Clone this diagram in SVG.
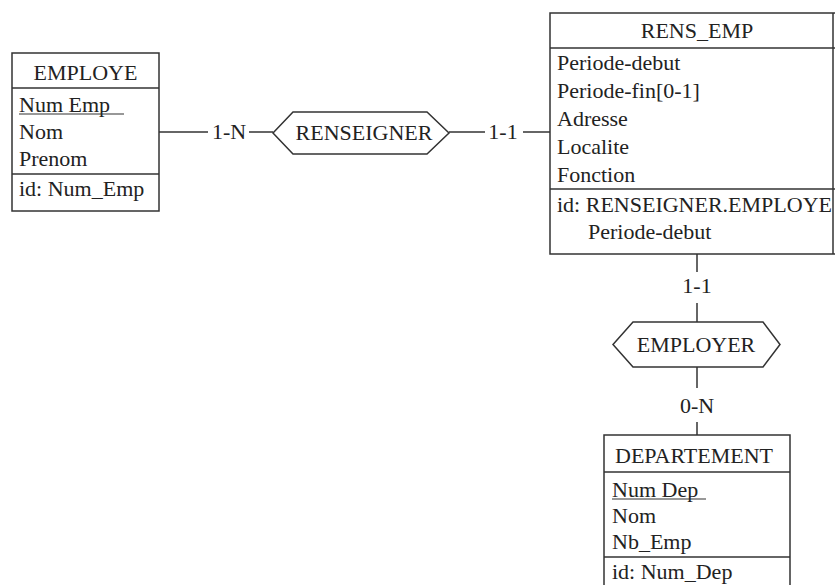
<svg xmlns="http://www.w3.org/2000/svg" width="835" height="585" viewBox="0 0 835 585">
<style>
.box{fill:none;stroke:#333;stroke-width:1.5}
.ln{fill:none;stroke:#333;stroke-width:1.5}
text{font-family:"Liberation Serif","Times New Roman",serif;font-size:22px;fill:#222}
.c{text-anchor:middle}
</style>
<rect width="835" height="585" fill="#fff"/>
<g id="connectors">
<line class="ln" x1="159" y1="132" x2="208" y2="132"/>
<text class="c" x="229" y="139">1-N</text>
<line class="ln" x1="249" y1="132" x2="273" y2="132"/>
<line class="ln" x1="449" y1="132" x2="485" y2="132"/>
<text class="c" x="503" y="139">1-1</text>
<line class="ln" x1="523" y1="132" x2="550" y2="132"/>
<line class="ln" x1="697" y1="254" x2="697" y2="272"/>
<text class="c" x="697" y="293">1-1</text>
<line class="ln" x1="697" y1="303" x2="697" y2="322"/>
<line class="ln" x1="697" y1="367" x2="697" y2="388"/>
<text class="c" x="697" y="413">0-N</text>
<line class="ln" x1="697" y1="422" x2="697" y2="435"/>
</g>
<g id="EMPLOYE">
<rect class="box" x="12" y="53" width="147" height="158"/>
<line class="ln" x1="12" y1="88" x2="159" y2="88"/>
<line class="ln" x1="12" y1="174" x2="159" y2="174"/>
<text class="c" x="85.5" y="80">EMPLOYE</text>
<text x="19" y="112">Num Emp</text>
<line class="ln" x1="19" y1="114" x2="124" y2="114" style="stroke-width:1.2"/>
<text x="19" y="139">Nom</text>
<text x="19" y="166">Prenom</text>
<text x="19" y="196">id: Num_Emp</text>
</g>
<g id="RENSEIGNER">
<polygon class="box" points="273,133 293,112 427,112 449,133 427,154 293,154"/>
<text class="c" x="364" y="140">RENSEIGNER</text>
</g>
<g id="RENS_EMP">
<polyline class="box" points="836,13 550,13 550,254 836,254"/>
<line class="ln" x1="833" y1="13" x2="833" y2="254"/>
<line class="ln" x1="550" y1="48" x2="836" y2="48"/>
<line class="ln" x1="550" y1="189" x2="836" y2="189"/>
<text class="c" x="697" y="38">RENS_EMP</text>
<text x="557" y="70">Periode-debut</text>
<text x="557" y="98">Periode-fin[0-1]</text>
<text x="557" y="126">Adresse</text>
<text x="557" y="154">Localite</text>
<text x="557" y="182">Fonction</text>
<text x="557" y="212">id: RENSEIGNER.EMPLOYE</text>
<text x="588" y="239">Periode-debut</text>
</g>
<g id="EMPLOYER">
<polygon class="box" points="613,344.5 633,322 763,322 780,344.5 763,367 633,367"/>
<text class="c" x="696" y="352">EMPLOYER</text>
</g>
<g id="DEPARTEMENT">
<polyline class="box" points="604,590 604,435 790,435 790,590"/>
<line class="ln" x1="604" y1="472" x2="790" y2="472"/>
<line class="ln" x1="604" y1="557" x2="790" y2="557"/>
<text class="c" x="694" y="463">DEPARTEMENT</text>
<text x="612" y="497">Num Dep</text>
<line class="ln" x1="612" y1="499" x2="706" y2="499" style="stroke-width:1.2"/>
<text x="612" y="523">Nom</text>
<text x="612" y="549">Nb_Emp</text>
<text x="612" y="579">id: Num_Dep</text>
</g>
</svg>
